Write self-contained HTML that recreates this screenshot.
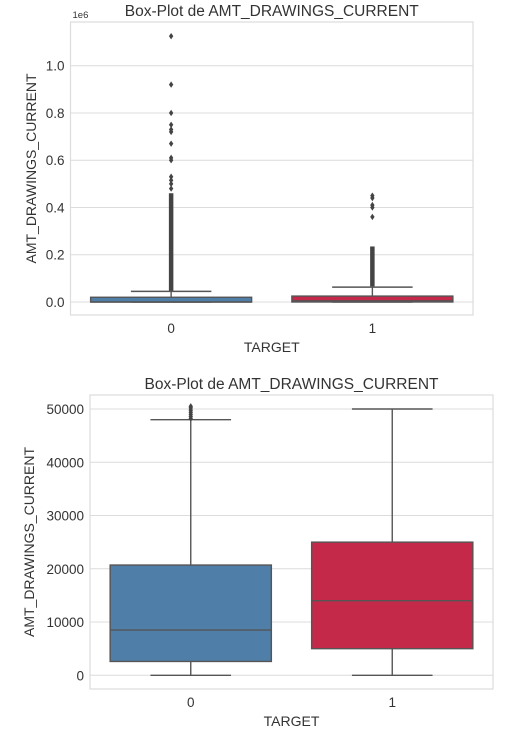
<!DOCTYPE html>
<html><head><meta charset="utf-8"><style>
html,body{margin:0;padding:0;background:#fff;}
svg{display:block;font-family:"Liberation Sans",sans-serif;}
</style></head><body>
<svg id="chart" width="518" height="732"></svg>
<script>
const categories = ["0","1"];
const colors = ["#4f7fa8","#c5294a"];
// top chart (full range)
const topTicks = [0,0.2,0.4,0.6,0.8,1.0];
const topQ1 = [0,0];
const topMed = [0,5000];
const topQ3 = [20000,25000];
const topWhiskLo = [0,0];
const topWhiskHi = [45000,63000];
const topDenseLo = [47000,66000];
const topDenseHi = [460000,235000];
const topOutliers0 = [480000,500000,515000,530000,600000,610000,670000,720000,730000,750000,800000,920000,1125000];
const topOutliers1 = [360000,400000,410000,440000,450000];
// bottom chart (filtered)
const botTicks = [0,10000,20000,30000,40000,50000];
const botQ1 = [2600,5000];
const botMed = [8500,14000];
const botQ3 = [20700,25000];
const botWhiskLo = [0,0];
const botWhiskHi = [48000,50000];
const botOut0 = [48200,48600,49000,49400,49800,50200,50500];

const NS="http://www.w3.org/2000/svg";
const svg=document.getElementById('chart');
function mk(tag,attrs,parent,name){const e=document.createElementNS(NS,tag);for(const k in attrs)e.setAttribute(k,attrs[k]);


(parent||svg).appendChild(e);return e;}

function panel(cfg){
  const g=mk('g',{},svg,cfg.name);
  const y=v=>cfg.y0+(v-0)*(cfg.y1-cfg.y0)/(cfg.v1);
  const xc=i=>cfg.left+(cfg.right-cfg.left)*(i+0.5)/categories.length;
  const bw=(cfg.right-cfg.left)/categories.length*0.8;
  cfg.ticks.forEach((t,i)=>{
    const yy=y(t*cfg.tickScale);
    mk('line',{x1:cfg.left,x2:cfg.right,y1:yy,y2:yy,stroke:'#dcdcdc','stroke-width':1},g,'gridline');
    const tx=mk('text',{x:cfg.left-6,y:yy+5,'text-anchor':'end','font-size':13.5,fill:'#333'},g,'y-tick-label');
    tx.textContent=cfg.tickFmt(t);
  });
  mk('rect',{x:cfg.left,y:cfg.top,width:cfg.right-cfg.left,height:cfg.bottom-cfg.top,fill:'none',stroke:'#dcdcdc','stroke-width':1.2},g,'plot-frame');
  categories.forEach((c,i)=>{
    const cx=xc(i);
    const d=cfg.data;
    const eg=mk('g',{},g,'box-'+c);
    mk('line',{x1:cx,x2:cx,y1:y(d.q3[i]),y2:y(d.hi[i]),stroke:'#555','stroke-width':1.4},eg,'upper-whisker');
    mk('line',{x1:cx,x2:cx,y1:y(d.q1[i]),y2:y(d.lo[i]),stroke:'#555','stroke-width':1.4},eg,'lower-whisker');
    mk('line',{x1:cx-bw/4,x2:cx+bw/4,y1:y(d.hi[i]),y2:y(d.hi[i]),stroke:'#555','stroke-width':1.4},eg,'upper-cap');
    mk('line',{x1:cx-bw/4,x2:cx+bw/4,y1:y(d.lo[i]),y2:y(d.lo[i]),stroke:'#555','stroke-width':1.4},eg,'lower-cap');
    if(d.denseLo){
      mk('line',{x1:cx,x2:cx,y1:y(d.denseLo[i]),y2:y(d.denseHi[i]),stroke:'#444','stroke-width':4.5},eg,'dense-outliers');
    }
    (d.out[i]||[]).forEach(v=>{
      mk('path',{d:`M${cx},${y(v)-3.2}L${cx+2.2},${y(v)}L${cx},${y(v)+3.2}L${cx-2.2},${y(v)}Z`,fill:'#444'},eg,'outlier');
    });
    const top=y(d.q3[i]),bot=y(d.q1[i]);
    mk('rect',{x:cx-bw/2,y:top,width:bw,height:Math.max(bot-top,2),fill:colors[i],stroke:'#555','stroke-width':1.4},eg,'box-body');
    mk('line',{x1:cx-bw/2,x2:cx+bw/2,y1:y(d.med[i]),y2:y(d.med[i]),stroke:'#555','stroke-width':1.4},eg,'median-line');
    const xt=mk('text',{x:cx,y:cfg.bottom+18,'text-anchor':'middle','font-size':13.5,fill:'#333'},g,'x-tick-label');
    xt.textContent=c;
  });
  const t=mk('text',{x:(cfg.left+cfg.right)/2,y:cfg.top-6,'text-anchor':'middle','font-size':15.5,fill:'#333'},g,'chart-title');
  t.textContent='Box-Plot de AMT_DRAWINGS_CURRENT';
  const xl=mk('text',{x:(cfg.left+cfg.right)/2,y:cfg.bottom+37,'text-anchor':'middle','font-size':14,fill:'#333'},g,'x-axis-title');
  xl.textContent='TARGET';
  const ym=(cfg.top+cfg.bottom)/2;
  const yl=mk('text',{x:cfg.ylx,y:ym,'text-anchor':'middle','font-size':14,fill:'#333',transform:`rotate(-90 ${cfg.ylx} ${ym})`},g,'y-axis-title');
  yl.textContent='AMT_DRAWINGS_CURRENT';
  if(cfg.offset){const o=mk('text',{x:cfg.left+2,y:cfg.top-4,'font-size':9.5,fill:'#333'},g,'axis-offset-label');o.textContent=cfg.offset;}
}
panel({name:'top-chart',left:70.5,right:473,top:22,bottom:315,y0:302,y1:65.7,v1:1e6,ticks:topTicks,tickScale:1e6,
  tickFmt:t=>t.toFixed(1),ylx:36,offset:'1e6',
  data:{q1:topQ1,med:topMed,q3:topQ3,lo:topWhiskLo,hi:topWhiskHi,denseLo:topDenseLo,denseHi:topDenseHi,out:[topOutliers0,topOutliers1]}});
panel({name:'bottom-chart',left:90,right:493,top:395,bottom:689,y0:675.3,y1:409,v1:50000,ticks:botTicks,tickScale:1,
  tickFmt:t=>String(t),ylx:34,
  data:{q1:botQ1,med:botMed,q3:botQ3,lo:botWhiskLo,hi:botWhiskHi,out:[botOut0,[]]}});
</script>
</body></html>
